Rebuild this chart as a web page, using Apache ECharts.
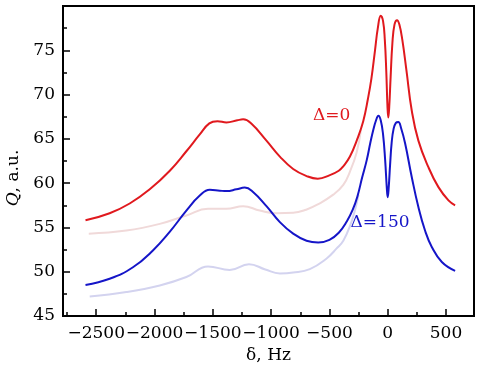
<!DOCTYPE html>
<html>
<head>
<meta charset="utf-8">
<script src="https://cdn.jsdelivr.net/npm/echarts@6/dist/echarts.min.js"></script>
<style>
  html, body { margin: 0; padding: 0; background: #fff; }
  #chart { width: 480px; height: 375px; }
</style>
</head>
<body>
<div id="chart"></div>
<script>
// detuning (Hz) and Q (a.u.)
const redX = [-2592, -2385, -2213, -2041, -1869, -1727, -1612, -1530, -1460, -1383, -1290, -1240, -1168, -1040, -925, -811, -696, -600, -496, -420, -381, -324, -266, -210, -170, -140, -109, -85, -60, -40, -25, -12, -2, 5, 13, 25, 40, 58, 80, 100, 125, 160, 206, 263, 349, 435, 521, 578]
const redY = [55.8, 56.6, 57.7, 59.3, 61.4, 63.6, 65.5, 66.75, 67.0, 66.85, 67.1, 67.2, 66.7, 64.8, 63.0, 61.6, 60.8, 60.5, 60.9, 61.4, 61.9, 63.0, 64.8, 67.0, 69.5, 71.8, 75.0, 77.5, 78.9, 78.3, 76.2, 72.5, 68.6, 67.4, 68.6, 72.0, 75.8, 77.9, 78.4, 77.9, 76.2, 72.8, 68.2, 64.8, 61.8, 59.55, 58.05, 57.5]

const blueX = [-2592, -2385, -2185, -2014, -1870, -1727, -1612, -1526, -1440, -1383, -1297, -1226, -1155, -1040, -925, -811, -696, -596, -500, -420, -350, -300, -260, -220, -180, -150, -124, -100, -80, -60, -40, -22, -8, 0, 8, 20, 34, 50, 70, 91, 115, 149, 206, 263, 320, 378, 464, 578]
const blueY = [48.5, 49.2, 50.5, 52.4, 54.5, 56.9, 58.6, 59.25, 59.15, 59.1, 59.3, 59.5, 59.0, 57.4, 55.6, 54.3, 53.5, 53.3, 53.6, 54.4, 55.7, 57.0, 58.5, 60.6, 62.6, 64.5, 66.0, 67.1, 67.6, 67.1, 65.5, 62.6, 59.5, 58.4, 59.4, 62.0, 64.6, 66.1, 66.8, 66.9, 66.2, 64.5, 60.7, 57.3, 54.65, 52.8, 51.1, 50.1]

const pinkX = [-2564, -2242, -1955, -1727, -1541, -1383, -1240, -1097, -954, -811, -700, -600, -467, -381, -324, -266, -230]
const pinkY = [54.3, 54.65, 55.4, 56.35, 57.1, 57.1, 57.4, 56.9, 56.6, 56.65, 57.0, 57.6, 58.7, 59.8, 61.3, 63.5, 66.0]

const lightX = [-2556, -2242, -1955, -1727, -1541, -1355, -1190, -1050, -925, -811, -668, -524, -440, -381, -320, -280, -250]
const lightY = [47.2, 47.7, 48.45, 49.4, 50.6, 50.2, 50.85, 50.25, 49.8, 49.9, 50.3, 51.5, 52.6, 53.5, 55.3, 57.0, 58.7]

const xTicks = [-2500, -2000, -1500, -1000, -500, 0, 500]
const yTicks = [45, 50, 55, 60, 65, 70, 75]

const pairs = (xs, ys) => xs.map((x, i) => [x, ys[i]])
const font = '"DejaVu Serif", "Liberation Serif", serif'

let myChart = echarts.init(document.getElementById('chart'))
myChart.setOption({
  animation: false,
  textStyle: { fontFamily: font, color: '#000' },
  grid: {
    left: 63, right: 6, top: 6, bottom: 59,
    containLabel: false,
    outerBoundsMode: 'none',
    show: true,
    borderColor: '#000',
    borderWidth: 2
  },
  xAxis: {
    type: 'value',
    min: -2785,
    max: 740,
    splitNumber: 7,
    name: 'δ, Hz',
    nameLocation: 'middle',
    nameGap: 30,
    nameTextStyle: { fontFamily: font, fontSize: 17, color: '#000' },
    axisLine: { show: true, onZero: false, lineStyle: { color: '#000', width: 2 } },
    axisTick: { show: true, inside: true, length: 7, lineStyle: { color: '#000', width: 1.5 } },
    minorTick: { show: true, splitNumber: 2, length: 4, lineStyle: { color: '#000', width: 1.5 } },
    splitLine: { show: false },
    axisLabel: {
      fontFamily: font, fontSize: 17, color: '#000', margin: 9,
      showMinLabel: false, showMaxLabel: false,
      formatter: v => xTicks.includes(v) ? (v < 0 ? '\u2212' + Math.abs(v) : String(v)) : ''
    }
  },
  yAxis: {
    type: 'value',
    min: 45,
    max: 80,
    interval: 5,
    name: '{i|Q}, a.u.',
    nameLocation: 'middle',
    nameGap: 38,
    nameTextStyle: {
      fontFamily: font, fontSize: 17, color: '#000',
      padding: [0, 34, 0, 0],
      rich: { i: { fontFamily: font, fontSize: 17, fontStyle: 'italic', color: '#000' } }
    },
    axisLine: { show: true, onZero: false, lineStyle: { color: '#000', width: 2 } },
    axisTick: { show: true, inside: true, length: 7, lineStyle: { color: '#000', width: 1.5 } },
    minorTick: { show: true, splitNumber: 2, length: 4, lineStyle: { color: '#000', width: 1.5 } },
    splitLine: { show: false },
    axisLabel: {
      fontFamily: font, fontSize: 17, color: '#000', margin: 8,
      showMaxLabel: false,
      formatter: v => yTicks.includes(v) ? String(v) : ''
    }
  },
  series: [
    {
      name: 'faint0', type: 'line', data: pairs(pinkX, pinkY), smooth: 0.45,
      symbol: 'none', lineStyle: { color: '#f0d9d9', width: 2 }
    },
    {
      name: 'faint150', type: 'line', data: pairs(lightX, lightY), smooth: 0.45,
      symbol: 'none', lineStyle: { color: '#d3d3ef', width: 2 }
    },
    {
      name: 'Δ=0', type: 'line', data: pairs(redX, redY), smooth: 0.45,
      symbol: 'none', lineStyle: { color: '#e0191e', width: 2 },
      markPoint: {
        symbol: 'circle', symbolSize: 0,
        label: { show: true, position: 'inside', formatter: 'Δ=0', fontFamily: font, fontSize: 17, color: '#e0191e' },
        data: [{ coord: [-481, 67.65] }]
      }
    },
    {
      name: 'Δ=150', type: 'line', data: pairs(blueX, blueY), smooth: 0.45,
      symbol: 'none', lineStyle: { color: '#1515c8', width: 2 },
      markPoint: {
        symbol: 'circle', symbolSize: 0,
        label: { show: true, position: 'inside', formatter: 'Δ=150', fontFamily: font, fontSize: 17, color: '#1515c8' },
        data: [{ coord: [-66, 55.6] }]
      }
    }
  ]
})
</script>
</body>
</html>
